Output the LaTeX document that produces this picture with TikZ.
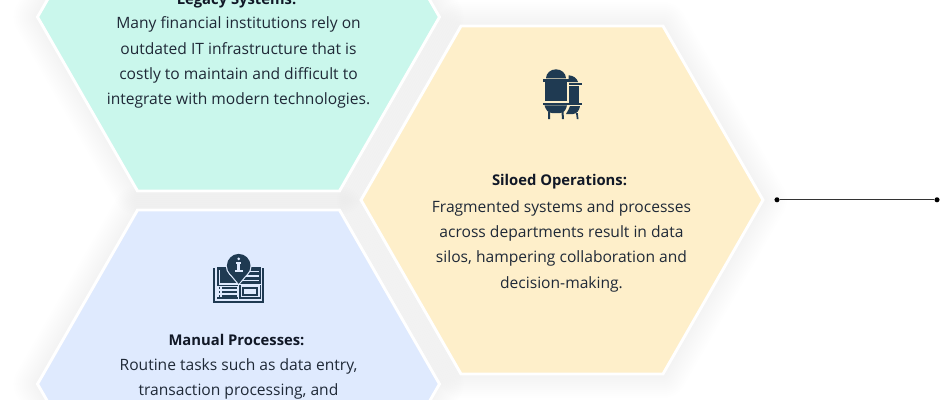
\documentclass[tikz,border=0pt]{standalone}
\usepackage{fontspec}
\setmainfont{Open Sans}
\definecolor{mint}{HTML}{CAF7EC}
\definecolor{cream}{HTML}{FEEFCA}
\definecolor{sky}{HTML}{DFEAFE}
\definecolor{ink}{HTML}{1F3A52}
\definecolor{bodyc}{HTML}{1F2937}
\definecolor{headc}{HTML}{111827}
\tikzset{
  body/.style={align=center,text=bodyc,font=\fontsize{11.7pt}{18.98pt}\selectfont,inner sep=0pt,text depth=0pt},
  head/.style={text=headc,font=\fontsize{11.1pt}{18.98pt}\selectfont\bfseries,inner sep=0pt},
  face/.style={draw=white,line width=2.2pt,line join=miter,miter limit=10},
  dot/.style={circle,fill=black,inner sep=0pt,minimum size=3.8pt},
  wire/.style={draw=black!80,line width=0.6pt}
}
\newcommand{\hexpath}[2]{(#1-201,#2) -- (#1-101,#2-174) -- (#1+101,#2-174) -- (#1+201,#2) -- (#1+101,#2+174) -- (#1-101,#2+174) -- cycle}
\newcommand{\halo}[2]{%
  \foreach \w in {36,33,...,3}{\draw[black,opacity=0.004,line width=\w pt,line join=round] \hexpath{#1}{#2};}}
\begin{document}
\begin{tikzpicture}[x=0.75pt,y=-0.75pt]
\useasboundingbox (0,0) rectangle (940,400);
\clip (0,0) rectangle (940,400);
\fill[white] (0,0) rectangle (940,400);
\halo{238.5}{17}
\halo{238.5}{384}
\halo{562}{200}
\fill[face,fill=mint] \hexpath{238.5}{17};
\fill[face,fill=sky] \hexpath{238.5}{384};
\fill[face,fill=cream] \hexpath{562}{200};
\node[head] (t1) at (236.5,0.5) {Legacy Systems:};
\node[body,anchor=north] (b1) at (238.5,16.5) {Many financial institutions rely on\\outdated IT infrastructure that is\\costly to maintain and difficult to\\integrate with modern technologies.};
\node[head] (t2) at (559.5,182) {Siloed Operations:};
\node[body,anchor=north] (b2) at (561.5,200) {Fragmented systems and processes\\across departments result in data\\silos, hampering collaboration and\\decision-making.};
\node[head] (t3) at (236.5,340) {Manual Processes:};
\node[body,anchor=north] (b3) at (238.5,358) {Routine tasks such as data entry,\\transaction processing, and};
% silo icon
\begin{scope}[ink]
\fill (546,78.3) arc[start angle=180,end angle=360,x radius=10,y radius=9] -- cycle;
\fill (543.3,79.3) rectangle (568.7,81.7);
\fill (545.3,82.3) rectangle (566.7,100.7);
\fill (543.3,102.7) rectangle (568.7,104.7);
\fill (544.5,105.4) .. controls (546,110) and (548,113) .. (552,113) -- (560,113) .. controls (564,113) and (566,110) .. (567,105.4) -- cycle;
\fill (548,112) -- (550,112) -- (550,119) -- (548.2,119) -- cycle;
\fill (561.5,112) -- (563.5,112) -- (564,119) -- (562,119) -- cycle;
\fill (568.7,75.3) .. controls (573,75.5) and (577,78) .. (578,82) -- (568.7,82) -- cycle;
\fill (568.7,83.3) rectangle (581.7,85.3);
\fill (569.3,86) rectangle (579.3,102.7);
\fill (569.3,103.3) rectangle (581.7,105.3);
\fill (570,106) -- (580,106) .. controls (579.5,110) and (577,114) .. (573,114) -- (566,114) .. controls (568,111) and (569,108.5) .. (570,106) -- cycle;
\fill (576,113) -- (577.8,113) -- (578.5,119) -- (576.8,119) -- cycle;
% book icon
\fill (213.3,268) rectangle (215,302.7);
\fill (213.3,301) rectangle (264,302.7);
\fill (262.3,268) rectangle (264,302.7);
\fill (216.6,266.7) rectangle (238,298.6);
\fill (239.4,266.7) rectangle (260.7,298.6);
\end{scope}
% left page details
\fill[sky] (218.5,270) rectangle (220,284.5);
\fill[sky] (218.5,283) rectangle (238,284.5);
\fill[sky] (216.6,285.5) rectangle (238,297.2);
\foreach \yy in {287,291,295}{
  \fill[ink] (218.6,\yy) rectangle (220.2,\yy+1.8);
  \fill[ink] (222,\yy) rectangle (237,\yy+1.8);
}
% right page details
\fill[sky] (250,270.7) rectangle (259,272.3);
\fill[sky] (245,275) rectangle (259,276.7);
\fill[sky] (240.5,279.5) rectangle (259,281.2);
\fill[sky] (239.4,284) rectangle (260.7,285.2);
\fill[sky] (240.6,285.2) rectangle (259.5,297.2);
\fill[ink] (242,286.5) rectangle (258,296);
\fill[sky] (244,288.5) rectangle (256,294);
% bubble
\fill[sky] (238.7,265.7) circle (13);
\fill[sky] (229,274) -- (238.7,285.5) -- (248.4,274) -- cycle;
\fill[ink] (238.7,265.7) circle (11.8);
\fill[ink] (230.2,273.5) -- (238.7,283.8) -- (247.2,273.5) -- cycle;
\fill[sky] (238.7,258.8) circle (1.5);
\fill[sky] (235.8,262) rectangle (240.8,263.6);
\fill[sky] (237.2,262) rectangle (240.4,271);
\fill[sky] (235,270.2) rectangle (242.5,272.2);
% connector
\node[dot] (d1) at (777,199.8) {};
\node[dot] (d2) at (937,199.8) {};
\draw[wire] (d1) -- (d2);
\end{tikzpicture}
\end{document}
